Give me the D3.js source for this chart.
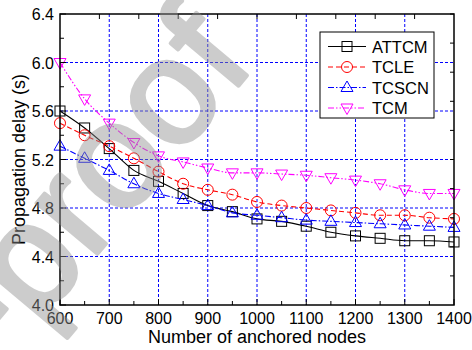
<!DOCTYPE html>
<html>
<head>
<meta charset="utf-8">
<script src="https://cdn.jsdelivr.net/npm/d3@7/dist/d3.min.js"></script>
<style>
  body { margin: 0; background: #fff; }
  svg { display: block; font-family: "Liberation Sans", Arial, sans-serif; }
</style>
</head>
<body>
<svg id="chart"></svg>
<script>
// Data
const nodes = [600, 650, 700, 750, 800, 850, 900, 950, 1000, 1050, 1100, 1150, 1200, 1250, 1300, 1350, 1400];
const attcm = [5.60, 5.46, 5.29, 5.11, 5.02, 4.92, 4.82, 4.77, 4.71, 4.69, 4.65, 4.60, 4.57, 4.55, 4.53, 4.53, 4.52];
const tcle  = [5.50, 5.40, 5.31, 5.21, 5.10, 5.00, 4.95, 4.91, 4.85, 4.82, 4.80, 4.78, 4.76, 4.74, 4.74, 4.72, 4.71];
const tcscn = [5.31, 5.21, 5.11, 5.00, 4.92, 4.87, 4.82, 4.76, 4.74, 4.72, 4.70, 4.69, 4.68, 4.67, 4.66, 4.65, 4.64];
const tcm   = [6.00, 5.70, 5.50, 5.34, 5.23, 5.18, 5.13, 5.09, 5.09, 5.08, 5.07, 5.05, 5.03, 5.00, 4.95, 4.92, 4.92];
const seriesNames = ["ATTCM", "TCLE", "TCSCN", "TCM"];
const xTicks = [600, 700, 800, 900, 1000, 1100, 1200, 1300, 1400];
const yTicks = [4.0, 4.4, 4.8, 5.2, 5.6, 6.0, 6.4];

const W = 472, H = 350;
const margin = { top: 14, right: 18, bottom: 45, left: 60 };
const width = W - margin.left - margin.right;
const height = H - margin.top - margin.bottom;

const svg = d3.select("#chart").attr("width", W).attr("height", H);
const g = svg.append("g").attr("transform", `translate(${margin.left},${margin.top})`);

const x = d3.scaleLinear().domain([600, 1400]).range([0, width]);
const y = d3.scaleLinear().domain([4.0, 6.4]).range([height, 0]);

// grid
g.append("g").selectAll("line")
    .data(xTicks.slice(1, -1))
    .join("line")
    .attr("x1", d => x(d)).attr("x2", d => x(d))
    .attr("y1", 0).attr("y2", height)
    .attr("stroke", "#0000ff").attr("stroke-width", 1).attr("stroke-dasharray", "3,2");
g.append("g").selectAll("line")
    .data(yTicks.slice(1, -1))
    .join("line")
    .attr("y1", d => y(d)).attr("y2", d => y(d))
    .attr("x1", 0).attr("x2", width)
    .attr("stroke", "#0000ff").attr("stroke-width", 1).attr("stroke-dasharray", "3,2");

// series
const series = [
  { name: "ATTCM", values: attcm, color: "#000000", dash: null, marker: "square" },
  { name: "TCLE", values: tcle, color: "#ff0000", dash: "5,3", marker: "circle" },
  { name: "TCSCN", values: tcscn, color: "#0000ff", dash: "6,2,1.5,2", marker: "up" },
  { name: "TCM", values: tcm, color: "#ff00ff", dash: "6,2,1.5,2,1.5,2", marker: "down" }
];

const line = d3.line()
    .x((d, i) => x(nodes[i]))
    .y(d => y(d))
    .curve(d3.curveMonotoneX);

function drawMarker(sel, type, color) {
  if (type === "square") {
    sel.append("rect").attr("x", -5).attr("y", -5).attr("width", 10).attr("height", 10);
  } else if (type === "circle") {
    sel.append("circle").attr("r", 5.5);
  } else if (type === "up") {
    sel.append("path").attr("d", "M0,-6.5L6,4L-6,4Z");
  } else {
    sel.append("path").attr("d", "M0,6.5L6,-4L-6,-4Z");
  }
  sel.selectAll("*").attr("fill", "none").attr("stroke", color).attr("stroke-width", 1);
}

series.forEach(s => {
  g.append("path")
      .datum(s.values)
      .attr("d", line)
      .attr("fill", "none")
      .attr("stroke", s.color)
      .attr("stroke-width", 1.1)
      .attr("stroke-dasharray", s.dash);
  g.append("g").selectAll("g")
      .data(s.values)
      .join("g")
      .attr("transform", (d, i) => `translate(${x(nodes[i])},${y(d)})`)
      .each(function () { drawMarker(d3.select(this), s.marker, s.color); });
});

// axes (ticks point inward)
const xMinor = d3.range(650, 1400, 100);
const yMinor = d3.range(4.2, 6.4, 0.4);
const topTicks = d3.range(680, 1400, 80);
const rightTicks = d3.range(4.24, 6.4, 0.24);

const axes = g.append("g").attr("stroke", "#000");
axes.selectAll("line.xt").data(xTicks).join("line")
    .attr("x1", d => x(d)).attr("x2", d => x(d)).attr("y1", height).attr("y2", height - 6);
axes.selectAll("line.xm").data(xMinor).join("line").attr("class", "xm")
    .attr("x1", d => x(d)).attr("x2", d => x(d)).attr("y1", height).attr("y2", height - 4);
axes.selectAll("line.yt").data(yTicks).join("line").attr("class", "yt")
    .attr("y1", d => y(d)).attr("y2", d => y(d)).attr("x1", 0).attr("x2", 6);
axes.selectAll("line.ym").data(yMinor).join("line").attr("class", "ym")
    .attr("y1", d => y(d)).attr("y2", d => y(d)).attr("x1", 0).attr("x2", 4);
axes.selectAll("line.tt").data(topTicks).join("line").attr("class", "tt")
    .attr("x1", d => x(d)).attr("x2", d => x(d)).attr("y1", 0).attr("y2", 5);
axes.selectAll("line.rt").data(rightTicks).join("line").attr("class", "rt")
    .attr("y1", d => y(d)).attr("y2", d => y(d)).attr("x1", width).attr("x2", width - 4);
g.append("rect")
    .attr("width", width).attr("height", height)
    .attr("fill", "none").attr("stroke", "#000").attr("stroke-width", 1.5);

// tick labels
g.append("g").selectAll("text").data(xTicks).join("text")
    .attr("x", d => x(d)).attr("y", height + 19)
    .attr("text-anchor", "middle").attr("font-size", 16)
    .text(d => d);
g.append("g").selectAll("text").data(yTicks).join("text")
    .attr("x", -6).attr("y", d => y(d) + 6)
    .attr("text-anchor", "end").attr("font-size", 16)
    .text(d => d.toFixed(1));

// axis titles
g.append("text")
    .attr("x", width / 2).attr("y", height + 38)
    .attr("text-anchor", "middle").attr("font-size", 18)
    .text("Number of anchored nodes");
g.append("text")
    .attr("transform", "rotate(-90)")
    .attr("x", -height / 2).attr("y", -35)
    .attr("text-anchor", "middle").attr("font-size", 18)
    .text("Propagation delay (s)");

// legend
const legend = svg.append("g").attr("transform", "translate(320,32)");
legend.append("rect")
    .attr("width", 114).attr("height", 86)
    .attr("fill", "#fff").attr("stroke", "#000").attr("stroke-width", 1);
series.forEach((s, i) => {
  const row = legend.append("g").attr("transform", `translate(0,${14.5 + i * 20.5})`);
  row.append("line")
      .attr("x1", 8).attr("x2", 46)
      .attr("stroke", s.color).attr("stroke-width", 1.1)
      .attr("stroke-dasharray", s.dash);
  drawMarker(row.append("g").attr("transform", "translate(27,0)"), s.marker, s.color);
  row.append("text")
      .attr("x", 52).attr("y", 6)
      .attr("font-size", 16.5)
      .text(seriesNames[i]);
});

// watermark
svg.append("text")
    .attr("transform", "translate(5,364) rotate(-50)")
    .attr("font-size", 150)
    .attr("fill", "#909090")
    .attr("stroke", "#909090")
    .attr("stroke-width", 4)
    .attr("stroke-linejoin", "round")
    .attr("opacity", 0.45)
    .text("-proof");
</script>
</body>
</html>
